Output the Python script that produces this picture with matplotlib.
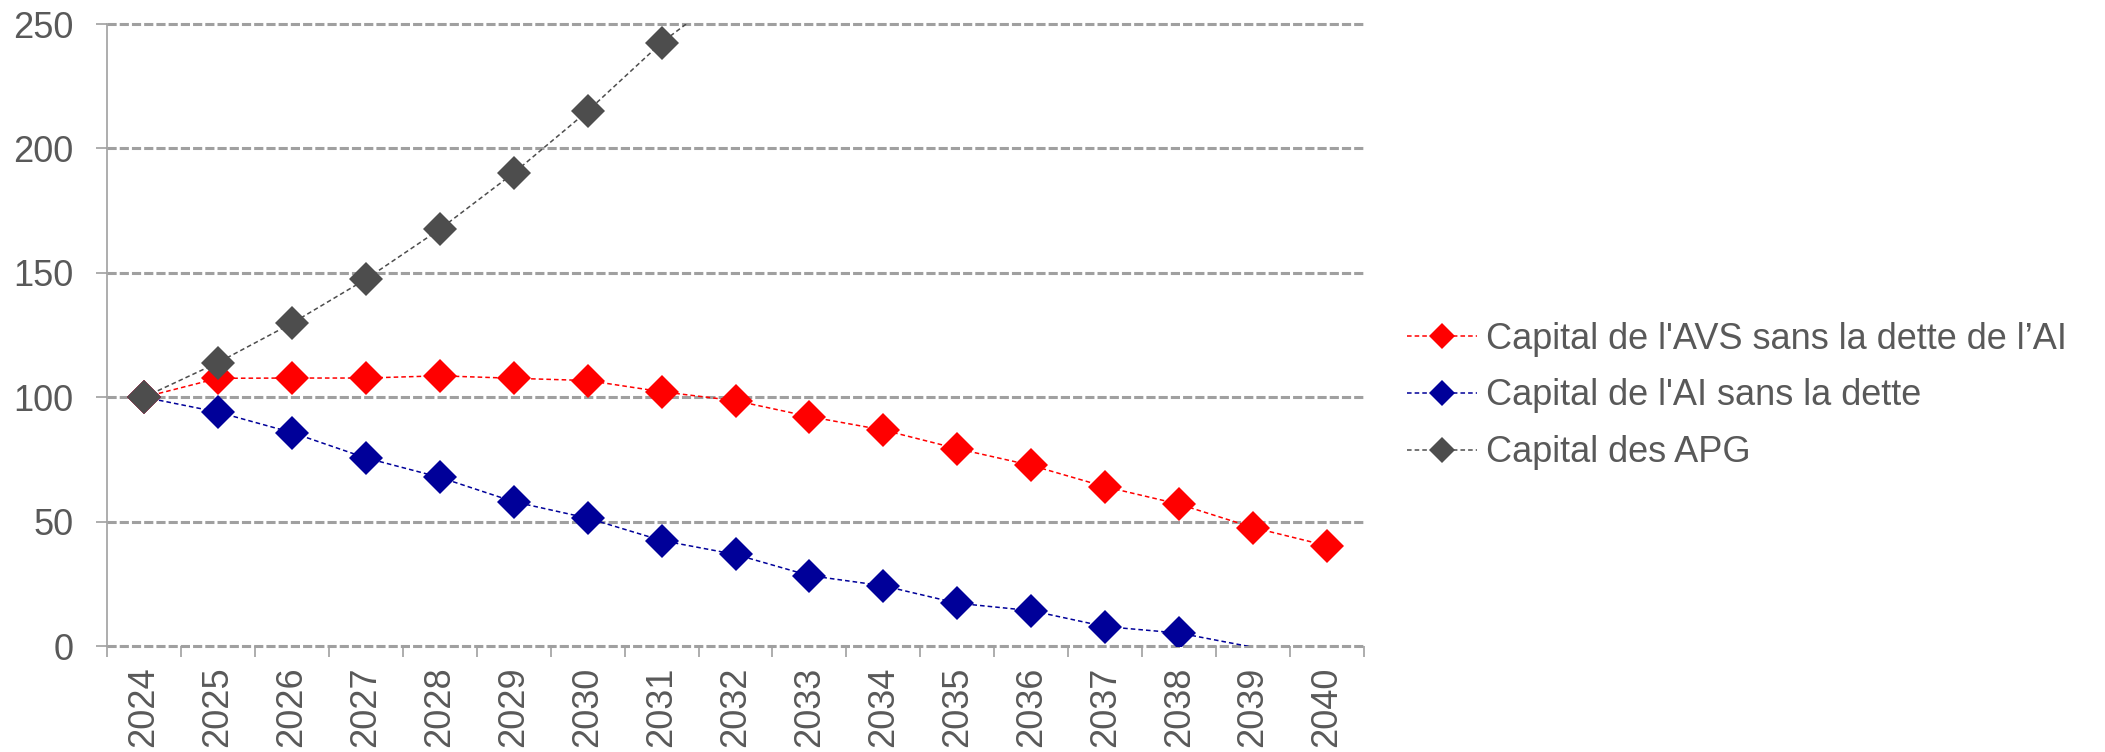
import numpy as np
import matplotlib
matplotlib.use("Agg")
import matplotlib.pyplot as plt
from matplotlib.lines import Line2D

plt.rcParams['font.family'] = ['Liberation Sans', 'DejaVu Sans']

years = [str(y) for y in range(2024, 2041)]

# capital index, 2024 = 100
avs = [100, 107.6, 107.7, 107.7, 108.6, 107.6, 106.7, 102.2, 98.6, 92.2,
       86.8, 79.3, 72.6, 64.0, 57.0, 47.6, 40.3]
ai = [100, 94.0, 85.8, 75.6, 67.8, 58.0, 51.4, 42.4, 36.8, 28.3,
      24.2, 17.2, 14.2, 7.8, 5.2, -0.5, np.nan]
apg = [100, 113.9, 129.7, 147.4, 167.5, 190.1, 215.0, 242.5, 265.0, np.nan,
       np.nan, np.nan, np.nan, np.nan, np.nan, np.nan, np.nan]

labels = ["Capital de l'AVS sans la dette de l\u2019AI",
          "Capital de l'AI sans la dette",
          "Capital des APG"]
colors = ['#ff0000', '#000099', '#4d4d4d']

YMIN, YMAX = 0, 250
TXT = '#595959'
GRID = '#a0a0a0'
FS = 26

fig = plt.figure(figsize=(21.05, 7.52), dpi=100)
ax = fig.add_axes([107 / 2105, 1 - 646 / 752, (1364 - 107) / 2105, (646 - 24) / 752])

x = np.arange(len(years))
series = [ai, avs, apg]
cols = [colors[1], colors[0], colors[2]]
for vals, c in zip(series, cols):
    v = np.array(vals, dtype=float)
    # markers only for points inside the visible range (line still runs out)
    shown = [i for i in range(len(v)) if not np.isnan(v[i]) and YMIN <= v[i] <= YMAX]
    ax.plot(x, v, color=c, lw=1.1, linestyle=(0, (3, 2)), marker='D',
            markersize=17.5, markeredgewidth=0, markevery=shown, zorder=3)

ax.set_xlim(-0.5, len(years) - 0.5)
ax.set_ylim(YMIN, YMAX)
ax.set_yticks(range(0, 251, 50))
ax.set_xticks(x)
ax.set_xticklabels(years, rotation=90)
ax.set_xticks(np.arange(-0.5, len(years), 1), minor=True)

for yv in range(0, 251, 50):
    ax.axhline(yv, color=GRID, lw=2.2, linestyle=(0, (3, 1)), zorder=1, clip_on=False)

for s in ['top', 'right', 'bottom']:
    ax.spines[s].set_visible(False)
ax.spines['left'].set_color(GRID)
ax.spines['left'].set_linewidth(1.2)

ax.tick_params(axis='y', colors=GRID, labelcolor=TXT, labelsize=FS, length=8, width=1.2, pad=16)
ax.tick_params(axis='x', which='major', length=0, labelcolor=TXT, labelsize=FS, pad=15)
ax.tick_params(axis='x', which='minor', length=8, width=1.2, color=GRID)

handles = [Line2D([], [], color=c, lw=1.1, linestyle=(0, (3, 2)), marker='D',
                  markersize=13, markeredgewidth=0) for c in colors]
fig.legend(handles, labels, loc='center left', bbox_to_anchor=(1407 / 2105, 1 - 396 / 752),
           frameon=False, fontsize=FS, labelcolor=TXT, handlelength=1.95,
           handletextpad=0.25, labelspacing=0.6, borderpad=0, borderaxespad=0)

fig.savefig('out.png', dpi=100)
